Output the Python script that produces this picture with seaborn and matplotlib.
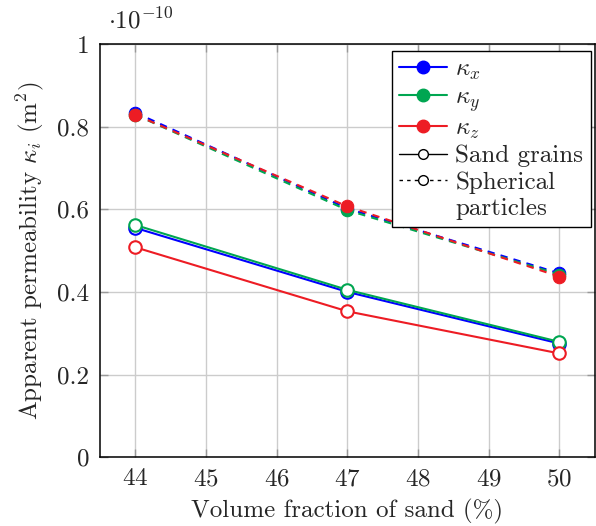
import numpy as np
import pandas as pd
import seaborn as sns
import matplotlib.pyplot as plt
from matplotlib.lines import Line2D

# data (permeability in units of 1e-10 m^2)
sand = [44, 47, 50]
sand_kx = [0.555, 0.400, 0.275]
sand_ky = [0.562, 0.405, 0.279]
sand_kz = [0.508, 0.353, 0.251]
sph_kx = [0.834, 0.602, 0.445]
sph_ky = [0.829, 0.598, 0.442]
sph_kz = [0.829, 0.607, 0.437]

sns.set_style("ticks")
plt.rcParams['font.family'] = ['cmr10', 'DejaVu Serif']
plt.rcParams['mathtext.fontset'] = 'cm'
plt.rcParams['axes.formatter.use_mathtext'] = True
plt.rcParams['font.size'] = 18

blue = "#0000ff"
green = "#00a651"
red = "#ed1c24"

fig = plt.figure(figsize=(5.96, 5.26), dpi=100)
ax = fig.add_axes([0.168, 0.131, 0.830, 0.785])

# spherical particles (dashed, filled markers)
for vals, c in [(sph_kx, blue), (sph_ky, green), (sph_kz, red)]:
    sns.lineplot(x=sand, y=vals, ax=ax, color=c, linestyle=(0, (3.5, 3)), lw=1.5,
                 marker="o", markersize=9, markerfacecolor=c, markeredgecolor=c)

# sand grains (solid, open markers)
for vals, c in [(sand_kx, blue), (sand_ky, green), (sand_kz, red)]:
    sns.lineplot(x=sand, y=vals, ax=ax, color=c, lw=1.5,
                 marker="o", markersize=9, markerfacecolor="white",
                 markeredgecolor=c, markeredgewidth=1.5)

ax.set_xlim(43.5, 50.5)
ax.set_ylim(0, 1)
ax.set_xticks([44, 45, 46, 47, 48, 49, 50])
ax.set_yticks([0, 0.2, 0.4, 0.6, 0.8, 1])
ax.set_yticklabels(["0", "0.2", "0.4", "0.6", "0.8", "1"])
ax.grid(True, color="#cccccc", lw=1)
ax.set_axisbelow(True)
ax.tick_params(direction="in", color="#999999", length=6, width=1, pad=8,
               top=True, right=True)
for s in ax.spines.values():
    s.set_linewidth(1.1)
    s.set_color("black")

ax.set_xlabel("Volume fraction of sand (%)", labelpad=6)
ax.set_ylabel(r"Apparent permeability $\kappa_i$ (m$^2$)", labelpad=8)
ax.text(0.015, 1.025, r"$\cdot10^{-10}$", transform=ax.transAxes, fontsize=18,
        ha="left", va="bottom")

handles = [
    Line2D([], [], color=blue, lw=1.5, marker="o", markersize=9),
    Line2D([], [], color=green, lw=1.5, marker="o", markersize=9),
    Line2D([], [], color=red, lw=1.5, marker="o", markersize=9),
    Line2D([], [], color="black", lw=1, marker="o", markersize=7,
           markerfacecolor="white"),
    Line2D([], [], color="black", lw=1, ls=(0, (2.5, 3)), marker="o",
           markersize=7, markerfacecolor="white"),
    Line2D([], [], color="none"),
]
labels = [r"$\kappa_x$", r"$\kappa_y$", r"$\kappa_z$", "Sand grains",
          "Spherical", "particles"]
leg = ax.legend(handles, labels, loc="upper right", bbox_to_anchor=(0.997, 0.99),
                frameon=True, fancybox=False, edgecolor="black", framealpha=1,
                handlelength=1.9, handletextpad=0.35, labelspacing=0.15,
                borderpad=0.3, borderaxespad=0.1, fontsize=18)
leg.get_frame().set_linewidth(1)

fig.savefig("out.png", dpi=100)
